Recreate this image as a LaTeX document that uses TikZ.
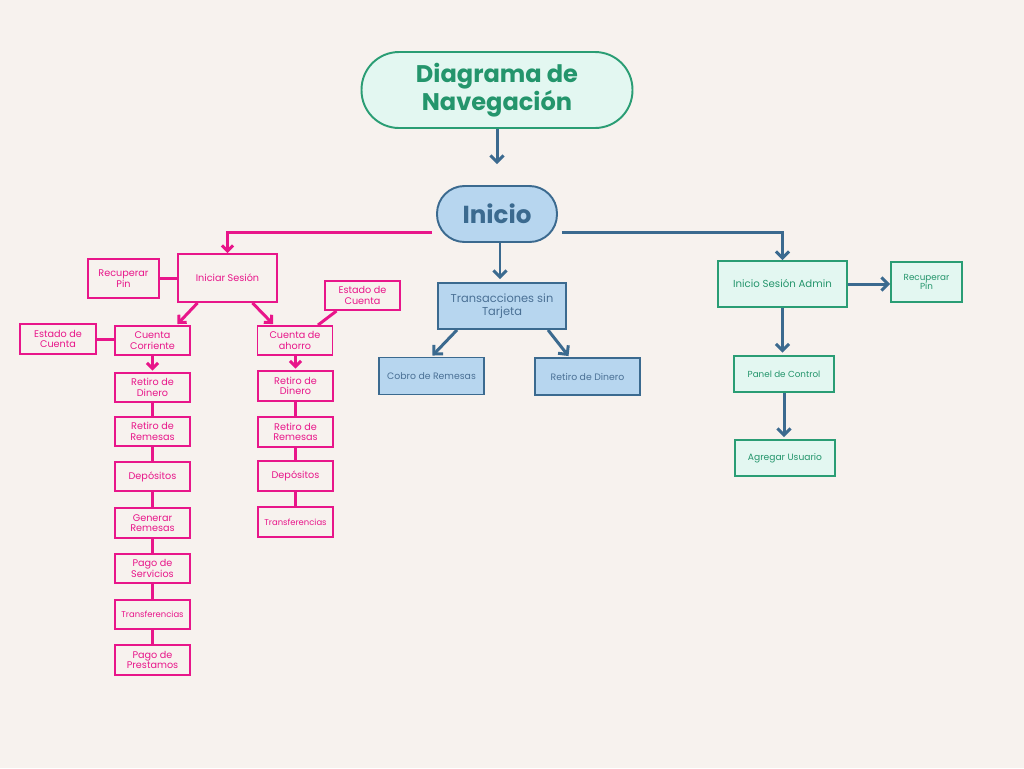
\documentclass[tikz,border=0pt]{standalone}
\usepackage{fontspec}
\setmainfont{Poppins}
\usetikzlibrary{arrows.meta,positioning}

\definecolor{fondo}{HTML}{F7F2EE}
\definecolor{rosa}{HTML}{E8168A}
\definecolor{azul}{HTML}{3B6A8F}
\definecolor{azultexto}{HTML}{4A7095}
\definecolor{azulfondo}{HTML}{B7D6EF}
\definecolor{verde}{HTML}{2A9D74}
\definecolor{verdetexto}{HTML}{24956C}
\definecolor{verdefondo}{HTML}{E3F7F1}

\tikzset{
  pinkbox/.style={draw=rosa, line width=1.1pt, text=rosa, align=center, inner sep=0pt,
    minimum width=1.5cm, minimum height=0.58cm, font=\fontsize{5.5}{6}\selectfont},
  bluebox/.style={draw=azul, fill=azulfondo, line width=1.1pt, text=azultexto, align=center,
    inner sep=0pt, minimum width=2.1cm, minimum height=0.74cm, font=\fontsize{5.3}{6}\selectfont},
  greenbox/.style={draw=verde, fill=verdefondo, line width=1.1pt, text=verdetexto, align=center,
    inner sep=0pt, minimum width=2cm, minimum height=0.72cm, font=\fontsize{5}{5.6}\selectfont},
  pinkline/.style={draw=rosa, line width=1.7pt},
  pinkarrow/.style={pinkline, -{Straight Barb[length=0.11cm,width=0.22cm]}},
  bluearrow/.style={draw=azul, line width=1.7pt, -{Straight Barb[length=0.13cm,width=0.26cm]}}
}

\begin{document}
\begin{tikzpicture}[x=0.02cm, y=-0.02cm]

            \fill[fondo] (0,0) rectangle (1024,768);
            \useasboundingbox (0,0) rectangle (1024,768);

            % titulo e inicio
            \node[draw=verde, fill=verdefondo, line width=1.1pt, rounded corners=0.75cm, text=verdetexto,
                  align=center, minimum width=5.42cm, minimum height=1.52cm,
                  font=\fontsize{13.7}{14.8}\selectfont\bfseries] (Titulo) at (497,90) {Diagrama de\\Navegación};
            \node[draw=azul, fill=azulfondo, line width=1.1pt, rounded corners=0.55cm, text=azul,
                  minimum width=2.4cm, minimum height=1.12cm,
                  font=\fontsize{14}{15}\selectfont\bfseries] (Inicio) at (497,214) {Inicio};

            % rama de usuario
            \node[pinkbox, minimum width=1.98cm, minimum height=0.96cm] (IniciarSesion) at (227.5,278) {Iniciar Sesión};
            \node[pinkbox, minimum width=1.42cm, minimum height=0.78cm] (RecuperarPin) at (123.5,278.5) {Recuperar\\Pin};
            \node[pinkbox] (EstadoDer) at (362.5,295.5) {Estado de\\Cuenta};
            \node[pinkbox, minimum width=1.52cm, minimum height=0.6cm] (EstadoIzq) at (58,339) {Estado de\\Cuenta};
            \node[pinkbox] (CuentaCorriente) at (152.5,340.5) {Cuenta\\Corriente};
            \node[pinkbox] (CuentaAhorro) at (295,340.5) {Cuenta de\\ahorro};

            \node[pinkbox] (CC1) at (152.5,387.5) {Retiro de\\Dinero};
            \node[pinkbox] (CC2) at (152.5,431.5) {Retiro de\\Remesas};
            \node[pinkbox] (CC3) at (152.5,476.5) {Depósitos};
            \node[pinkbox, minimum height=0.6cm] (CC4) at (152.5,523) {Generar\\Remesas};
            \node[pinkbox] (CC5) at (152.5,568.5) {Pago de\\Servicios};
            \node[pinkbox, font=\fontsize{4.8}{5.4}\selectfont] (CC6) at (152.5,614.5) {Transferencias};
            \node[pinkbox, minimum height=0.6cm] (CC7) at (152.5,660) {Pago de\\Prestamos};

            \node[pinkbox, minimum height=0.6cm] (CA1) at (295.5,386) {Retiro de\\Dinero};
            \node[pinkbox, minimum height=0.6cm] (CA2) at (295.5,432) {Retiro de\\Remesas};
            \node[pinkbox, minimum height=0.6cm] (CA3) at (295.5,476) {Depósitos};
            \node[pinkbox, minimum height=0.6cm, font=\fontsize{4.8}{5.4}\selectfont] (CA4) at (295.5,522) {Transferencias};

            % rama sin tarjeta
            \node[bluebox, minimum width=2.56cm, minimum height=0.92cm, font=\fontsize{6.5}{7.2}\selectfont] (Transacciones) at (502,306) {Transacciones sin\\Tarjeta};
            \node[bluebox] (Cobro) at (431.5,376) {Cobro de Remesas};
            \node[bluebox] (RetiroDinero) at (587.5,376.5) {Retiro de Dinero};

            % rama de administrador
            \node[greenbox, minimum width=2.58cm, minimum height=0.92cm, font=\fontsize{5.8}{6.4}\selectfont] (Admin) at (782.5,284) {Inicio Sesión Admin};
            \node[greenbox, minimum width=1.42cm, minimum height=0.8cm] (RecuperarAdmin) at (926.5,282) {Recuperar\\Pin};
            \node[greenbox] (Panel) at (784,374) {Panel de Control};
            \node[greenbox, font=\fontsize{5.2}{5.8}\selectfont] (Agregar) at (785,458) {Agregar Usuario};

            % conectores
            \draw[bluearrow, shorten >=0.42cm] (Titulo.south) -- (Inicio.north);
            \draw[pinkarrow] ([shift={(-4,18)}]Inicio.west) -| (IniciarSesion.north);
            \draw[bluearrow] ([shift={(4,18)}]Inicio.east) -| (Admin.north);
            \draw[bluearrow, shorten >=0.06cm] ([xshift=0.06cm]Inicio.south) -- ([xshift=0.06cm]Inicio.south |- Transacciones.north);

            \draw[pinkline] (RecuperarPin.east) -- (RecuperarPin.east -| IniciarSesion.west);
            \draw[pinkline] (EstadoIzq.east) -- (EstadoIzq.east -| CuentaCorriente.west);
            \draw[pinkline] ([shift={(-26,0)}]EstadoDer.south) -- ([shift={(23,0)}]CuentaAhorro.north);
            \draw[pinkarrow] ([shift={(-30,0)}]IniciarSesion.south) -- ([shift={(25,-1)}]CuentaCorriente.north);
            \draw[pinkarrow] ([shift={(25,0)}]IniciarSesion.south) -- ([shift={(-22,-1)}]CuentaAhorro.north);

            \draw[pinkarrow, shorten >=0.03cm] (CuentaCorriente) -- (CC1);
            \draw[pinkline] (CC1) -- (CC2);
            \draw[pinkline] (CC2) -- (CC3);
            \draw[pinkline] (CC3) -- (CC4);
            \draw[pinkline] (CC4) -- (CC5);
            \draw[pinkline] (CC5) -- (CC6);
            \draw[pinkline] (CC6) -- (CC7);

            \draw[pinkarrow, shorten >=0.03cm] (CuentaAhorro.south -| CA1.north) -- (CA1.north);
            \draw[pinkline] (CA1) -- (CA2);
            \draw[pinkline] (CA2) -- (CA3);
            \draw[pinkline] (CA3) -- (CA4);

            \draw[bluearrow] ([shift={(-45,0)}]Transacciones.south) -- ([shift={(1,-1)}]Cobro.north);
            \draw[bluearrow] ([shift={(46,0)}]Transacciones.south) -- ([shift={(-19,-1)}]RetiroDinero.north);

            \draw[bluearrow] (Admin.east) -- (Admin.east -| RecuperarAdmin.west);
            \draw[bluearrow, shorten >=0.05cm] (Admin.south) -- (Admin.south |- Panel.north);
            \draw[bluearrow, shorten >=0.04cm] (Panel.south) -- (Panel.south |- Agregar.north);
        \end{tikzpicture}
\end{document}
